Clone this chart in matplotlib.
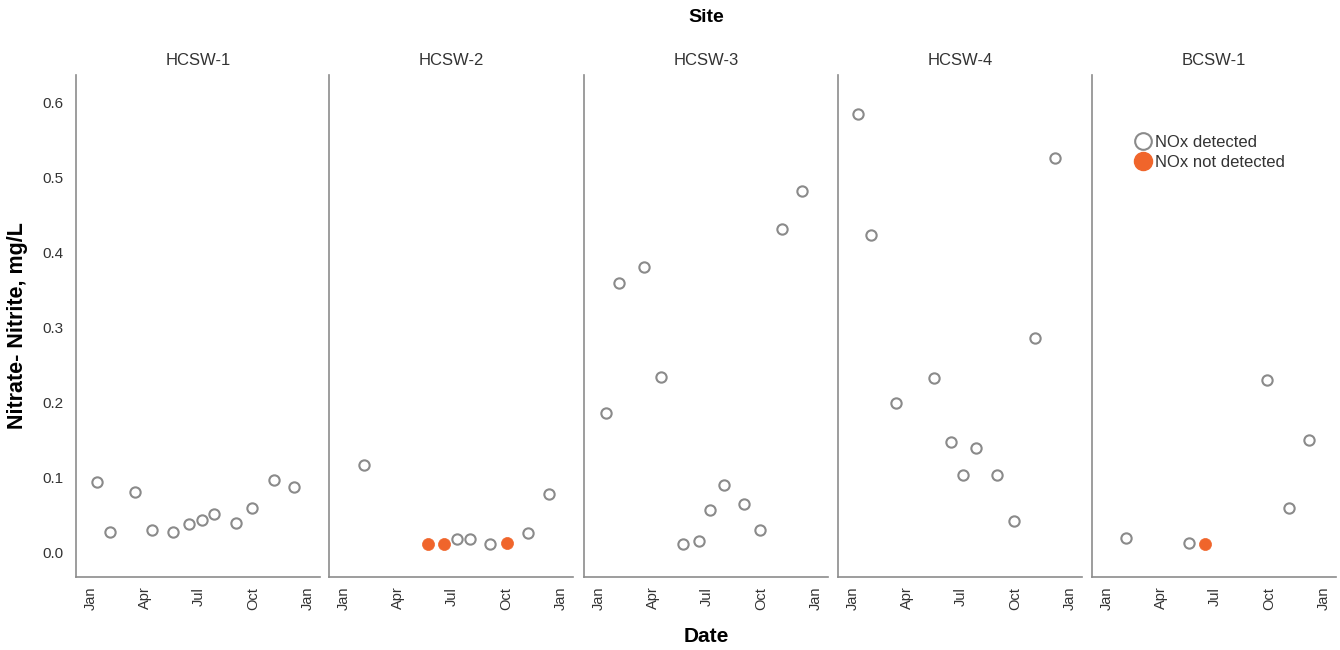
"""
Nitrate-nitrite concentrations by site through the year
"""

import pandas as pd
import matplotlib.pyplot as plt
import matplotlib.dates as mdates
from matplotlib.lines import Line2D

plt.rcParams['font.family'] = ['Liberation Sans', 'DejaVu Sans']

# ---------------------------------------------------------------------------- #
# Data: sample dates, NOx values and detection flag for each site
# ---------------------------------------------------------------------------- #
sites = ['HCSW-1', 'HCSW-2', 'HCSW-3', 'HCSW-4', 'BCSW-1']

hcsw1_dates = ['2020-01-11', '2020-02-02', '2020-03-15', '2020-04-13', '2020-05-18',
               '2020-06-15', '2020-07-06', '2020-07-27', '2020-09-01', '2020-09-28',
               '2020-11-04', '2020-12-09']
hcsw1_vals = [0.095, 0.028, 0.081, 0.031, 0.028, 0.039, 0.044, 0.052, 0.040,
              0.060, 0.097, 0.088]
hcsw1_det = [True] * 12

hcsw2_dates = ['2020-02-04', '2020-05-21', '2020-06-17', '2020-07-09', '2020-07-31',
               '2020-09-04', '2020-10-01', '2020-11-07', '2020-12-11']
hcsw2_vals = [0.117, 0.012, 0.012, 0.018, 0.019, 0.012, 0.013, 0.027, 0.079]
hcsw2_det = [True, False, False, True, True, True, False, True, True]

hcsw3_dates = ['2020-01-13', '2020-02-04', '2020-03-17', '2020-04-14', '2020-05-21',
               '2020-06-17', '2020-07-07', '2020-07-29', '2020-09-02', '2020-09-29',
               '2020-11-05', '2020-12-09']
hcsw3_vals = [0.187, 0.360, 0.381, 0.235, 0.012, 0.016, 0.057, 0.091, 0.065,
              0.031, 0.432, 0.483]
hcsw3_det = [True] * 12

hcsw4_dates = ['2020-01-09', '2020-01-31', '2020-03-13', '2020-05-16', '2020-06-14',
               '2020-07-04', '2020-07-26', '2020-08-30', '2020-09-28', '2020-11-02',
               '2020-12-07']
hcsw4_vals = [0.585, 0.424, 0.200, 0.233, 0.148, 0.104, 0.140, 0.104, 0.043,
              0.287, 0.527]
hcsw4_det = [True] * 11

bcsw1_dates = ['2020-02-02', '2020-05-18', '2020-06-15', '2020-09-26', '2020-11-02',
               '2020-12-07']
bcsw1_vals = [0.020, 0.013, 0.012, 0.231, 0.060, 0.151]
bcsw1_det = [True, True, False, True, True, True]

site_data = {
    'HCSW-1': (hcsw1_dates, hcsw1_vals, hcsw1_det),
    'HCSW-2': (hcsw2_dates, hcsw2_vals, hcsw2_det),
    'HCSW-3': (hcsw3_dates, hcsw3_vals, hcsw3_det),
    'HCSW-4': (hcsw4_dates, hcsw4_vals, hcsw4_det),
    'BCSW-1': (bcsw1_dates, bcsw1_vals, bcsw1_det),
}

y_ticks = [0.0, 0.1, 0.2, 0.3, 0.4, 0.5, 0.6]
month_ticks = ['2020-01-01', '2020-04-01', '2020-07-01', '2020-10-01', '2021-01-01']

# ---------------------------------------------------------------------------- #
# Style
# ---------------------------------------------------------------------------- #
axis_grey = '#8c8c8c'
text_grey = '#333333'
open_edge = '#8a8a8a'
orange = '#f0652b'

fig = plt.figure(figsize=(13.4, 6.5), dpi=100)

W, H = 1340., 650.
lefts = [76, 329, 584, 838, 1092]
width = 244
top, bottom = 75, 577

for i, site in enumerate(sites):
    ax = fig.add_axes([lefts[i] / W, 1 - bottom / H, width / W, (bottom - top) / H])
    dates, vals, det = site_data[site]
    df = pd.DataFrame({'date': pd.to_datetime(dates), 'value': vals, 'detected': det})

    hit = df[df['detected']]
    miss = df[~df['detected']]
    ax.scatter(hit['date'], hit['value'], s=55, facecolors='white',
               edgecolors=open_edge, linewidths=1.5, zorder=3)
    ax.scatter(miss['date'], miss['value'], s=75, color=orange,
               edgecolors=orange, linewidths=0.5, zorder=3)

    ax.set_xlim(pd.Timestamp('2019-12-07'), pd.Timestamp('2021-01-21'))
    ax.set_ylim(-0.032, 0.637)

    for side in ['top', 'right']:
        ax.spines[side].set_visible(False)
    for side in ['left', 'bottom']:
        ax.spines[side].set_color(axis_grey)
        ax.spines[side].set_linewidth(1.2)

    ax.set_xticks(pd.to_datetime(month_ticks))
    ax.xaxis.set_major_formatter(mdates.DateFormatter('%b'))
    ax.tick_params(axis='x', length=0, pad=7, labelrotation=90,
                   labelsize=10.5, labelcolor=text_grey)
    ax.set_yticks(y_ticks)
    if i == 0:
        ax.set_yticklabels([f'{v:.1f}' for v in y_ticks])
        ax.tick_params(axis='y', length=0, pad=9, labelsize=11,
                       labelcolor=text_grey)
        ax.set_ylabel('Nitrate- Nitrite, mg/L', fontsize=15.5, fontweight='bold',
                      labelpad=10)
    else:
        ax.tick_params(axis='y', length=0, labelleft=False)

    ax.set_title(site, fontsize=12, color=text_grey, pad=7)

    if site == 'BCSW-1':
        handles = [Line2D([], [], linestyle='none', marker='o', markersize=12,
                          markerfacecolor='white', markeredgecolor=open_edge,
                          markeredgewidth=1.5),
                   Line2D([], [], linestyle='none', marker='o', markersize=13,
                          markerfacecolor=orange, markeredgecolor=orange)]
        ax.legend(handles, ['NOx detected', 'NOx not detected'], frameon=False,
                  loc='upper left', bbox_to_anchor=(0.1, 0.91), fontsize=12,
                  handletextpad=0.0, handlelength=1.4, labelspacing=0.3,
                  labelcolor=text_grey)

fig.text(0.5 * (76 + 1336) / W, 1 - 18 / H, 'Site', ha='center', va='center',
         fontsize=14, fontweight='bold')
fig.text(0.5 * (76 + 1336) / W, 1 - 637 / H, 'Date', ha='center', va='center',
         fontsize=15, fontweight='bold')

fig.savefig('out.png', dpi=100)
plt.close()
